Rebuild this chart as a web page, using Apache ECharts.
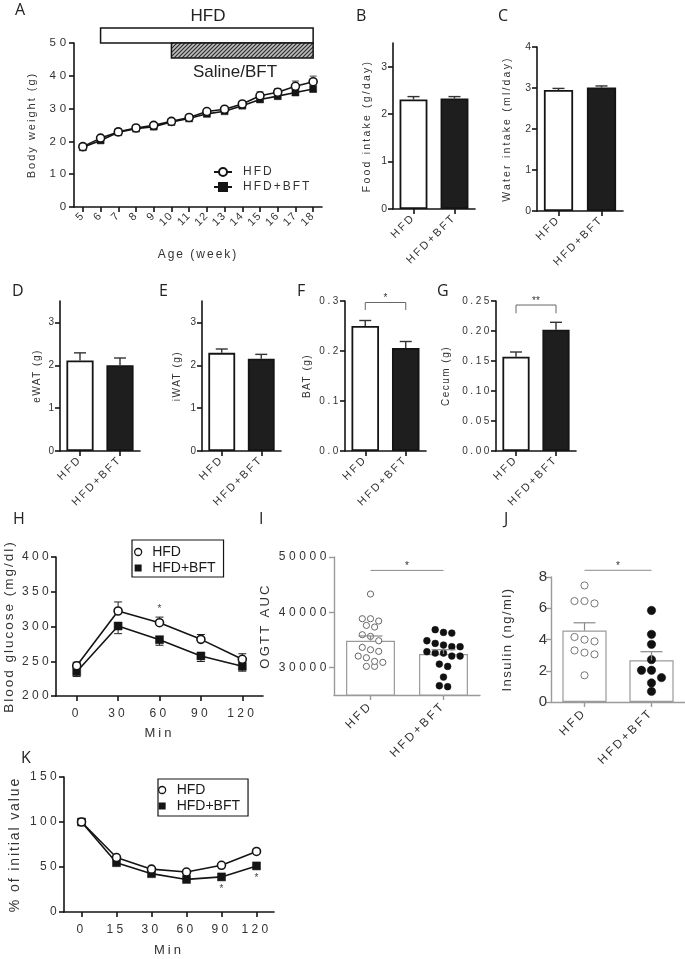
<!DOCTYPE html>
<html><head><meta charset="utf-8">
<script src="https://cdn.jsdelivr.net/npm/echarts@6/dist/echarts.min.js"></script>
<style>html,body{margin:0;padding:0;background:#fff}#c{width:685px;height:959px}</style>
</head><body><div id="c"></div>
<script>
// letter spacing support: font family token "lsNN" => NN/10 px spacing
(function(){
  var P = CanvasRenderingContext2D.prototype;
  if (!('letterSpacing' in P)) return;
  var f = P.fillText, s = P.strokeText, m = P.measureText;
  function ls(c){ var r = /ls(\d+)/.exec(c.font); var v = r ? (r[1]/10)+'px' : '0px'; if (c.letterSpacing !== v) c.letterSpacing = v; }
  P.fillText = function(){ ls(this); return f.apply(this, arguments); };
  P.strokeText = function(){ ls(this); return s.apply(this, arguments); };
  P.measureText = function(){ ls(this); return m.apply(this, arguments); };
})();

// ---------------- DATA ----------------
const weeks = ['5','6','7','8','9','10','11','12','13','14','15','16','17','18'];
const bwHFD    = [18.4,21.0,22.9,24.1,24.9,26.1,27.3,29.1,29.8,31.4,33.9,35.0,36.8,38.2];
const bwHFDsem = [0.5,0.6,0.5,0.5,0.6,0.6,0.6,0.7,0.7,0.8,1.2,1.1,1.6,1.7];
const bwBFT    = [18.2,20.3,22.8,23.9,24.5,25.9,27.0,28.4,29.2,30.9,32.8,33.8,34.9,36.0];
const bwBFTsem = [0.4,0.5,0.5,0.5,0.6,0.5,0.6,0.6,0.6,0.7,0.8,0.8,0.8,0.9];
const bwTicks = [0,10,20,30,40,50];
const hfdPeriod = ['6','18', 50, 54.6];
const bftPeriod = ['10','18', 45.4, 50];

const groups = ['HFD','HFD+BFT'];
const foodMean = [2.31,2.33],  foodSem = [0.06,0.04];
const waterMean = [2.95,3.01], waterSem = [0.04,0.04];
const ewatMean = [2.11,2.00],  ewatSem = [0.18,0.17];
const iwatMean = [2.29,2.155], iwatSem = [0.09,0.10];
const batMean = [0.250,0.206], batSem = [0.011,0.013];
const cecumMean = [0.157,0.202], cecumSem = [0.008,0.0125];
const ticks035 = [0,1,2,3];
const ticks04 = [0,1,2,3,4];
const ticksBAT = [0,0.1,0.2,0.3];
const ticksCecum = [0,0.05,0.1,0.15,0.2,0.25];
const sigBAT = [0.297, 0.282, '*'];
const sigCecum = [0.2433, 0.2295, '**'];

const ogttTimes = ['0','30','60','90','120'];
const ogttHFD = [243.6,322.3,305.5,281.5,252.8], ogttHFDsem = [5,13,8,7,8];
const ogttBFT = [235,300.7,281,257.6,242.7],     ogttBFTsem = [7,11,8,8,7];
const ogttTicks = [200,250,300,350,400];
const ogttStars = [['60', 325]];

const aucHFD = [43290,38400,38820,38820,37310,37610,35920,35620,34830,33200,33630,32900,32050,31750,30910,30180,30180,31090];
const aucBFT = [36340,36220,36830,34830,33750,33750,34050,34350,32600,32050,32050,32600,32840,30180,30600,28250,26500,26680];
const aucMean = [34840,32430], aucSem = [850,770];
const aucTicks = [30000,40000,50000];
const sigAUC = [47570, '*'];

const insHFD = [7.46,6.46,6.31,6.46,4.16,3.88,3.99,3.16,3.05,3.30,1.71];
const insBFT = [5.86,4.33,3.69,2.71,2.03,2.03,1.56,1.22,0.68];
const insMean = [4.57,2.67], insSem = [0.50,0.55];
const insTicks = [0,2,4,6,8];
const sigIns = [8.43, '*'];

const ittTimes = ['0','15','30','60','90','120'];
const ittHFD = [100,60.5,47.6,44.4,51.9,67.3], ittHFDsem = [1,2.5,2,2.5,3,3];
const ittBFT = [100,54.8,42.6,36.2,39.0,51.2], ittBFTsem = [1,1.5,1.5,1.5,2,2];
const ittTicks = [0,50,100,150];
const ittStars = [['90', 25], ['120', 37]];

// ---------------- HELPERS ----------------
function fam(ls){ return ls ? "'Liberation Sans', ls" + Math.round(ls*10) : "'Liberation Sans'"; }
const INK = '#141414';
const grids = [
  {left:74, top:43, width:248, height:164},   // 0 A
  {left:393, top:43, width:82, height:166},   // 1 B
  {left:537, top:47, width:86, height:164},   // 2 C
  {left:60, top:301, width:80, height:150},   // 3 D
  {left:202, top:301, width:79, height:150},  // 4 E
  {left:345, top:301, width:81, height:150},  // 5 F
  {left:496, top:301, width:80, height:150},  // 6 G
  {left:52, top:557, width:211, height:139},  // 7 H
  {left:334, top:557, width:146, height:138}, // 8 I
  {left:551, top:577, width:134, height:125}, // 9 J
  {left:64, top:777, width:210, height:140}   // 10 K
];
function xCat(g, cats, o){
  o = o || {};
  const col = o.col || INK, w = o.w || 1.6;
  return {type:'category', gridIndex:g, data:cats, boundaryGap:true,
    axisLine:{show:true, onZero:false, lineStyle:{color:col, width:w}},
    axisTick:{show:true, alignWithLabel:true, length:o.tl||5, lineStyle:{color:col, width:w}},
    axisLabel:{interval:0, rotate:o.rot||0, margin:o.m||8, fontSize:o.fs||11, fontFamily:fam(o.ls||0), color:o.lc||'#333'},
    name:o.name||'', nameLocation:'middle', nameGap:o.gap||30,
    nameTextStyle:{fontSize:o.nfs||12, fontFamily:fam(o.nls||0), color:'#333'},
    splitLine:{show:false}};
}
function yVal(g, min, max, ticks, o){
  o = o || {};
  const col = o.col || INK, w = o.w || 1.6;
  return {type:'value', gridIndex:g, min:min, max:max,
    axisLine:{show:true, onZero:false, lineStyle:{color:col, width:w}},
    axisTick:{show:true, customValues:ticks, length:o.tl||5, lineStyle:{color:col, width:w}},
    axisLabel:{customValues:ticks, margin:o.m||4, formatter:o.fmt || (v=>String(v)), fontSize:o.fs||11, fontFamily:fam(o.ls||0), color:o.lc||'#333'},
    name:o.name||'', nameLocation:'middle', nameRotate:90, nameGap:o.gap||30,
    nameTextStyle:{fontSize:o.nfs||11, fontFamily:fam(o.nls||0), color:'#333'},
    splitLine:{show:false}};
}
function errSeries(g, means, sems, dir, color, capW, lw, z){
  return {type:'custom', xAxisIndex:g, yAxisIndex:g, silent:true, z:z||3,
    data: means.map((m,i)=>[i, m, m + dir*sems[i]]),
    renderItem(p, api){
      const a = api.coord([api.value(0), api.value(1)]);
      const b = api.coord([api.value(0), api.value(2)]);
      const st = {stroke:color, lineWidth:lw};
      return {type:'group', children:[
        {type:'line', shape:{x1:a[0], y1:a[1], x2:b[0], y2:b[1]}, style:st},
        {type:'line', shape:{x1:b[0]-capW/2, y1:b[1], x2:b[0]+capW/2, y2:b[1]}, style:st}
      ]};
    }};
}
function barSeries(g, means, fills, border, bw, width){
  return {type:'bar', xAxisIndex:g, yAxisIndex:g, barWidth:width||'67%', silent:true, z:2,
    data: means.map((m,i)=>({value:m, itemStyle:{color:fills[i]}})),
    itemStyle:{borderColor:border, borderWidth:bw}};
}
function bracketSeries(g, sig, drops, color, fs){
  return {type:'custom', xAxisIndex:g, yAxisIndex:g, silent:true, z:6,
    data:[[0, sig[0], 1, drops ? sig[1] : sig[0]]],
    renderItem(p, api){
      const a = api.coord([0, api.value(1)]), b = api.coord([1, api.value(1)]);
      const da = api.coord([0, api.value(3)]);
      let pts = drops ? [[a[0], da[1]], a, b, [b[0], da[1]]] : [a, b];
      return {type:'group', children:[
        {type:'polyline', shape:{points:pts}, style:{stroke:color, lineWidth:1, fill:null}},
        {type:'text', x:(a[0]+b[0])/2, y:a[1]+1, style:{text:sig[drops?2:1], fontSize:fs, fontFamily:fam(0), fill:'#333', align:'center', verticalAlign:'bottom'}}
      ]};
    }};
}
function starSeries(g, cats, stars){
  return {type:'custom', xAxisIndex:g, yAxisIndex:g, silent:true, z:6,
    data: stars.map(s=>[cats.indexOf(s[0]), s[1]]),
    renderItem(p, api){
      const c = api.coord([api.value(0), api.value(1)]);
      return {type:'text', x:c[0], y:c[1], style:{text:'*', fontSize:10, fontFamily:fam(0), fill:'#444', align:'center', verticalAlign:'middle'}};
    }};
}
// row-based dot layout (points close in value share a row, side by side)
function swarmRows(pts, d){
  const order = pts.map((p,i)=>i).sort((a,b)=>pts[a][1]-pts[b][1]);
  const out = [];
  let row = [];
  const flush = ()=>{ row.forEach((i,j)=>{ out[i] = [pts[i][0] + (j - (row.length-1)/2)*d, pts[i][1]]; }); row = []; };
  order.forEach(i=>{
    if (row.length && pts[i][1] - pts[row[0]][1] > d*0.78) flush();
    row.push(i);
  });
  flush();
  return out;
}
function swarmSeries(g, cat, vals, r, fill, stroke, lw, gap){
  let cache = null;
  return {type:'custom', xAxisIndex:g, yAxisIndex:g, silent:true, z:4,
    data: vals.map(v=>[cat, v]),
    renderItem(p, api){
      if (!cache || p.dataIndexInside === 0) {
        cache = swarmRows(vals.map(v=>api.coord([cat, v])), 2*r + gap);
      }
      const c = cache[p.dataIndex];
      return {type:'circle', shape:{cx:c[0], cy:c[1], r:r}, style:{fill:fill, stroke:stroke, lineWidth:lw}};
    }};
}
// hatch pattern
const hatch = document.createElement('canvas');
hatch.width = 4; hatch.height = 4;
(function(){ const c = hatch.getContext('2d'); c.fillStyle = '#bdbdbd'; c.fillRect(0,0,4,4);
  c.strokeStyle = '#2a2a2a'; c.lineWidth = 1.1; c.beginPath(); c.moveTo(0,4); c.lineTo(4,0); c.moveTo(-1,1); c.lineTo(1,-1); c.moveTo(3,5); c.lineTo(5,3); c.stroke(); })();

function periodSeries(){
  const rows = [[weeks.indexOf(hfdPeriod[0]), hfdPeriod[2], weeks.indexOf(hfdPeriod[1]), hfdPeriod[3], 0],
                [weeks.indexOf(bftPeriod[0]), bftPeriod[2], weeks.indexOf(bftPeriod[1]), bftPeriod[3], 1]];
  return {type:'custom', xAxisIndex:0, yAxisIndex:0, silent:true, z:1, clip:false, data:rows,
    renderItem(p, api){
      const a = api.coord([api.value(0), api.value(1)]), b = api.coord([api.value(2), api.value(3)]);
      const hatchFill = api.value(4) === 1;
      return {type:'rect', shape:{x:a[0], y:b[1], width:b[0]-a[0], height:a[1]-b[1]},
        style:{fill: hatchFill ? {image:hatch, repeat:'repeat'} : '#fff', stroke:INK, lineWidth:1.5}};
    }};
}
function lineSeries(name, g, data, open, size){
  return {type:'line', name:name, xAxisIndex:g, yAxisIndex:g, data:data,
    symbol: open ? 'circle' : 'rect', symbolSize: size, z: open ? 5 : 4,
    itemStyle: open ? {color:'#fff', borderColor:INK, borderWidth:1.6} : {color:INK, borderColor:INK, borderWidth:0.5},
    lineStyle:{color:INK, width:1.6}, silent:true};
}

// ---------------- OPTION ----------------
const dim = '#9a9a9a';
const option = {
  animation:false,
  backgroundColor:'#fff',
  grid: grids.map(g=>Object.assign({containLabel:false}, g)),
  xAxis: [
    xCat(0, weeks, {rot:45, fs:11, ls:1.2, m:7, name:'Age (week)', gap:41, nfs:12, nls:2}),
    xCat(1, groups, {rot:45, fs:11, ls:2.2, m:7}),
    xCat(2, groups, {rot:45, fs:11, ls:2.2, m:7}),
    xCat(3, groups, {rot:45, fs:11, ls:2.2, m:7}),
    xCat(4, groups, {rot:45, fs:11, ls:2.2, m:7}),
    xCat(5, groups, {rot:45, fs:11, ls:2.2, m:7}),
    xCat(6, groups, {rot:45, fs:11, ls:2.2, m:7}),
    xCat(7, ogttTimes, {fs:12, ls:3.3, m:10, name:'Min', gap:29, nfs:13, nls:3}),
    xCat(8, groups, {rot:45, fs:12, ls:2.6, m:9, col:dim, w:1.4, tl:5}),
    xCat(9, groups, {rot:45, fs:12, ls:2.6, m:9, col:dim, w:1.4, tl:5}),
    xCat(10, ittTimes, {fs:12, ls:3.3, m:10, name:'Min', gap:30, nfs:13, nls:3})
  ],
  yAxis: [
    yVal(0, 0, 50, bwTicks, {fs:11.5, ls:3.8, name:'Body weight (g)', gap:36, nfs:11, nls:2}),
    yVal(1, 0, 3.5, ticks035, {fs:10.5, ls:2, name:'Food intake (g/day)', gap:19, nfs:10.5, nls:2.2}),
    yVal(2, 0, 4, ticks04, {fs:10.5, ls:2, name:'Water intake (ml/day)', gap:23, nfs:10.5, nls:2.2}),
    yVal(3, 0, 3.5, ticks035, {fs:10, ls:2, name:'eWAT (g)', gap:17, nfs:10, nls:1.5}),
    yVal(4, 0, 3.5, ticks035, {fs:10, ls:2, name:'iWAT (g)', gap:19, nfs:10, nls:1.5}),
    yVal(5, 0, 0.3, ticksBAT, {fs:10, ls:2.6, fmt:v=>v.toFixed(1), name:'BAT (g)', gap:32, nfs:10, nls:1.5}),
    yVal(6, 0, 0.25, ticksCecum, {fs:10, ls:2.6, fmt:v=>v.toFixed(2), name:'Cecum (g)', gap:44, nfs:10, nls:1.5}),
    yVal(7, 200, 400, ogttTicks, {fs:12, ls:3.3, name:'Blood glucose (mg/dl)', gap:39, nfs:13.5, nls:2}),
    yVal(8, 25000, 50000, aucTicks, {fs:12, ls:3.6, name:'OGTT AUC', gap:61, nfs:13, nls:2.3, col:dim, w:1.4, lc:'#333'}),
    yVal(9, 0, 8, insTicks, {fs:15, ls:0, name:'Insulin (ng/ml)', gap:36, nfs:13, nls:1.5, col:dim, w:1.4}),
    yVal(10, 0, 150, ittTicks, {fs:12, ls:3.3, name:'% of initial value', gap:41, nfs:14, nls:1.9})
  ],
  legend: [
    {left:213, top:165, orient:'vertical', padding:0, itemGap:1, itemWidth:18, itemHeight:10,
     data:['HFD#A','HFD+BFT#A'], formatter:n=>n.split('#')[0], selectedMode:false,
     textStyle:{fontSize:12, fontFamily:fam(2), color:'#333', padding:[0,0,0,6]}},
    {left:132, top:540, orient:'vertical', padding:[5,8,2,2], itemGap:2, itemWidth:18, itemHeight:7,
     borderColor:INK, borderWidth:1.2, selectedMode:false, formatter:n=>n.split('#')[0],
     data:[{name:'HFD#H', icon:'circle', itemStyle:{color:'#fff', borderColor:INK, borderWidth:1.3}},
           {name:'HFD+BFT#H', icon:'path://M0,0H1V1H0Z', itemStyle:{color:INK, borderWidth:0}}],
     textStyle:{fontSize:14, fontFamily:fam(0), color:'#1a1a1a'}},
    {left:158, top:779, orient:'vertical', padding:[4,8,3,0], itemGap:2, itemWidth:19, itemHeight:7,
     borderColor:INK, borderWidth:1.2, selectedMode:false, formatter:n=>n.split('#')[0],
     data:[{name:'HFD#K', icon:'circle', itemStyle:{color:'#fff', borderColor:INK, borderWidth:1.3}},
           {name:'HFD+BFT#K', icon:'path://M0,0H1V1H0Z', itemStyle:{color:INK, borderWidth:0}}],
     textStyle:{fontSize:14, fontFamily:fam(0), color:'#1a1a1a'}}
  ],
  graphic: [],
  series: []
};

const S = option.series;
// A
S.push(periodSeries());
S.push(errSeries(0, bwHFD, bwHFDsem, 1, '#666', 7, 1.2, 3));
S.push(errSeries(0, bwBFT, bwBFTsem, -1, '#666', 7, 1.2, 3));
S.push(lineSeries('HFD+BFT#A', 0, bwBFT, false, 7));
S.push(lineSeries('HFD#A', 0, bwHFD, true, 8));
// B-G
[[1,foodMean,foodSem],[2,waterMean,waterSem],[3,ewatMean,ewatSem],[4,iwatMean,iwatSem],[5,batMean,batSem],[6,cecumMean,cecumSem]].forEach(r=>{
  S.push(barSeries(r[0], r[1], ['#fff','#1e1e1e'], INK, 1.8, '68%'));
  S.push(errSeries(r[0], r[1], r[2], 1, '#333', 12, 1.4, 3));
});
S.push(bracketSeries(5, sigBAT, true, '#666', 10));
S.push(bracketSeries(6, sigCecum, true, '#666', 10));
// H
S.push(errSeries(7, ogttHFD, ogttHFDsem, 1, '#222', 8, 1, 3));
S.push(errSeries(7, ogttBFT, ogttBFTsem, -1, '#222', 8, 1, 3));
S.push(lineSeries('HFD+BFT#H', 7, ogttBFT, false, 8));
S.push(lineSeries('HFD#H', 7, ogttHFD, true, 8));
S.push(starSeries(7, ogttTimes, ogttStars));
// I
S.push(barSeries(8, aucMean, ['#fff','#fff'], dim, 1.2, '67%'));
S.push(swarmSeries(8, 0, aucHFD, 3.1, '#fff', '#666', 1, 2));
S.push(swarmSeries(8, 1, aucBFT, 3.4, '#111', '#111', 0.5, 1.5));
S.push(errSeries(8, aucMean, aucSem, 1, '#888', 24, 1.2, 5));
S.push(bracketSeries(8, sigAUC, false, '#8a8a8a', 10));
// J
S.push(barSeries(9, insMean, ['#fff','#fff'], dim, 1.2, '66%'));
S.push(swarmSeries(9, 0, insHFD, 3.6, '#fff', '#777', 1, 2.8));
S.push(swarmSeries(9, 1, insBFT, 4.2, '#111', '#111', 0.5, 1.6));
S.push(errSeries(9, insMean, insSem, 1, '#888', 22, 1.2, 5));
S.push(bracketSeries(9, sigIns, false, '#8a8a8a', 10));
// K
S.push(errSeries(10, ittHFD, ittHFDsem, 1, '#444', 7, 1, 3));
S.push(errSeries(10, ittBFT, ittBFTsem, -1, '#444', 7, 1, 3));
S.push(lineSeries('HFD+BFT#K', 10, ittBFT, false, 8));
S.push(lineSeries('HFD#K', 10, ittHFD, true, 8));
S.push(starSeries(10, ittTimes, ittStars));

// text annotations
const letters = [['A',15,11],['B',356,17],['C',498,17],['D',12,292],['E',159,292],['F',297,292],['G',437,292],['H',13,520],['I',259,520],['J',504,520],['K',21,759]];
letters.forEach(l=>option.graphic.push({type:'text', left:l[1], top:l[2]-9, silent:true,
  style:{text:l[0], fontSize:16, fontFamily:"'Open Sans'", fill:'#222'}}));
option.graphic.push({type:'text', x:208, y:16, silent:true, style:{text:'HFD', fontSize:17, fontFamily:fam(0), fill:'#222', align:'center', verticalAlign:'middle'}});
option.graphic.push({type:'text', x:235, y:72, silent:true, style:{text:'Saline/BFT', fontSize:17, fontFamily:fam(0), fill:'#222', align:'center', verticalAlign:'middle'}});

const chart = echarts.init(document.getElementById('c'), null, {renderer:'canvas', width:685, height:959});
chart.setOption(option);
</script></body></html>
